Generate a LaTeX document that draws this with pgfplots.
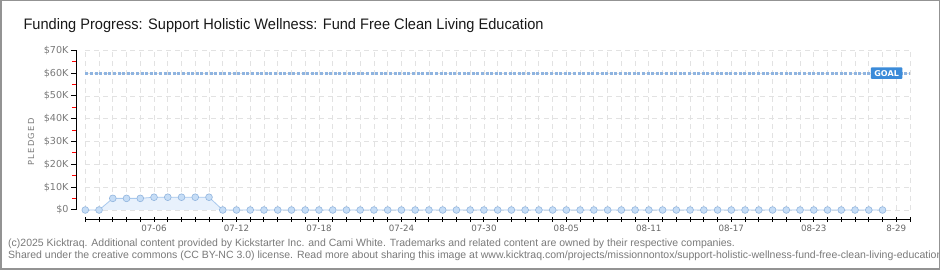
\documentclass[border=0pt]{standalone}
\usepackage{fontspec}
\setmainfont{Liberation Sans}
\newfontfamily\tickfont{DejaVu Sans}
\usepackage{pgfplots}
\pgfplotsset{compat=1.18}
\usepackage{graphicx}
\definecolor{linecol}{HTML}{A9C9EE}
\definecolor{markfill}{HTML}{C6DDF6}
\definecolor{markedge}{HTML}{92B5DE}
\definecolor{areacol}{HTML}{E8F1FC}
\definecolor{goalline}{HTML}{8FB4E0}
\definecolor{goalbox}{HTML}{3B8BD9}
\definecolor{gridcol}{HTML}{E2E2E2}
\definecolor{labcol}{HTML}{7A7A7A}
\definecolor{footcol}{HTML}{7A7A7A}
\begin{document}
\begin{tikzpicture}[x=1pt,y=1pt]
\useasboundingbox (0,0) rectangle (940,270);
\clip (0,0) rectangle (940,270);
\fill[white] (0,0) rectangle (940,270);
\begin{axis}[
  at={(85.3pt,60pt)}, anchor=south west,
  width=824.7pt, height=159.7pt, scale only axis,
  xmin=0, xmax=60, ymin=0, ymax=70000,
  scaled y ticks=false,
  clip=false,
  axis x line*=bottom, axis y line*=left,
  axis x line shift=9.3pt, axis y line shift=9.3pt,
  axis line style={-, black, line width=1pt},
  xtick={0,...,60},
  xticklabels={,,,,,07-06,,,,,,07-12,,,,,,07-18,,,,,,07-24,,,,,,07-30,,,,,,08-05,,,,,,08-11,,,,,,08-17,,,,,,08-23,,,,,,8-29,},
  xtick align=center,
  ytick={0,10000,...,70000},
  yticklabels={\$0,\$10K,\$20K,\$30K,\$40K,\$50K,\$60K,\$70K},
  minor ytick={5000,15000,...,65000},
  ytick align=outside,
  major tick length=5pt, minor tick length=4pt,
  major tick style={black, line width=1pt},
  minor tick style={red, line width=1pt},
  xmajorgrids, ymajorgrids,
  major grid style={gridcol, line width=0.8pt, dash pattern=on 5pt off 4pt},
  xticklabel style={font=\tickfont\fontsize{8.7}{9}\selectfont, text=labcol!85!black},
  yticklabel style={font=\tickfont\fontsize{9.6}{10}\selectfont, text=labcol, xshift=1pt},
]
\addplot[fill=areacol, draw=none, forget plot] coordinates {
(0,0) (1,0) (2,5100) (3,5100) (4,5100) (5,5600) (6,5600) (7,5600) (8,5600) (9,5600) (10,0) (58,0)
} \closedcycle;
\addplot[goalline, line width=3pt, dash pattern=on 3pt off 1.6pt] coordinates {(0,60000) (60,60000)};
\addplot[linecol, line width=0.8pt, mark=*, mark size=3.4pt, mark options={fill=markfill, draw=markedge, line width=0.6pt}] coordinates {
(0,0) (1,0) (2,5100) (3,5100) (4,5100) (5,5600) (6,5600) (7,5600) (8,5600) (9,5600)
(10,0) (11,0) (12,0) (13,0) (14,0) (15,0) (16,0) (17,0) (18,0) (19,0)
(20,0) (21,0) (22,0) (23,0) (24,0) (25,0) (26,0) (27,0) (28,0) (29,0)
(30,0) (31,0) (32,0) (33,0) (34,0) (35,0) (36,0) (37,0) (38,0) (39,0)
(40,0) (41,0) (42,0) (43,0) (44,0) (45,0) (46,0) (47,0) (48,0) (49,0)
(50,0) (51,0) (52,0) (53,0) (54,0) (55,0) (56,0) (57,0) (58,0)
};
\node[fill=goalbox, text=white, rounded corners=1pt, font=\tickfont\bfseries\fontsize{8}{8}\selectfont, inner xsep=3.5pt, inner ysep=2.8pt] at (axis cs:58.3,60000) {GOAL};
\end{axis}
\node[anchor=base west, text=black!90] at (20,240) {\resizebox{520pt}{11pt}{Funding Progress: Support Holistic Wellness: Fund Free Clean Living Education}};
\node[rotate=90, text=labcol, font=\tickfont\fontsize{8.3}{9}\selectfont] at (31,128) {P\,L\,E\,D\,G\,E\,D};
\node[anchor=base west, text=footcol, font=\fontsize{10.5}{11}\selectfont, inner sep=0pt] at (8,23) {(c)2025 Kicktraq. Additional content provided by Kickstarter Inc. and Cami White. Trademarks and related content are owned by their respective companies.};
\node[anchor=base west, text=footcol, font=\fontsize{10.5}{11}\selectfont, inner sep=0pt] at (8,11) {Shared under the creative commons (CC BY-NC 3.0) license. Read more about sharing this image at www.kicktraq.com/projects/missionnontox/support-holistic-wellness-fund-free-clean-living-education/};
\draw[gray!85, line width=1.5pt] (0.75,0.75) rectangle (939.25,269.25);
\end{tikzpicture}
\end{document}
